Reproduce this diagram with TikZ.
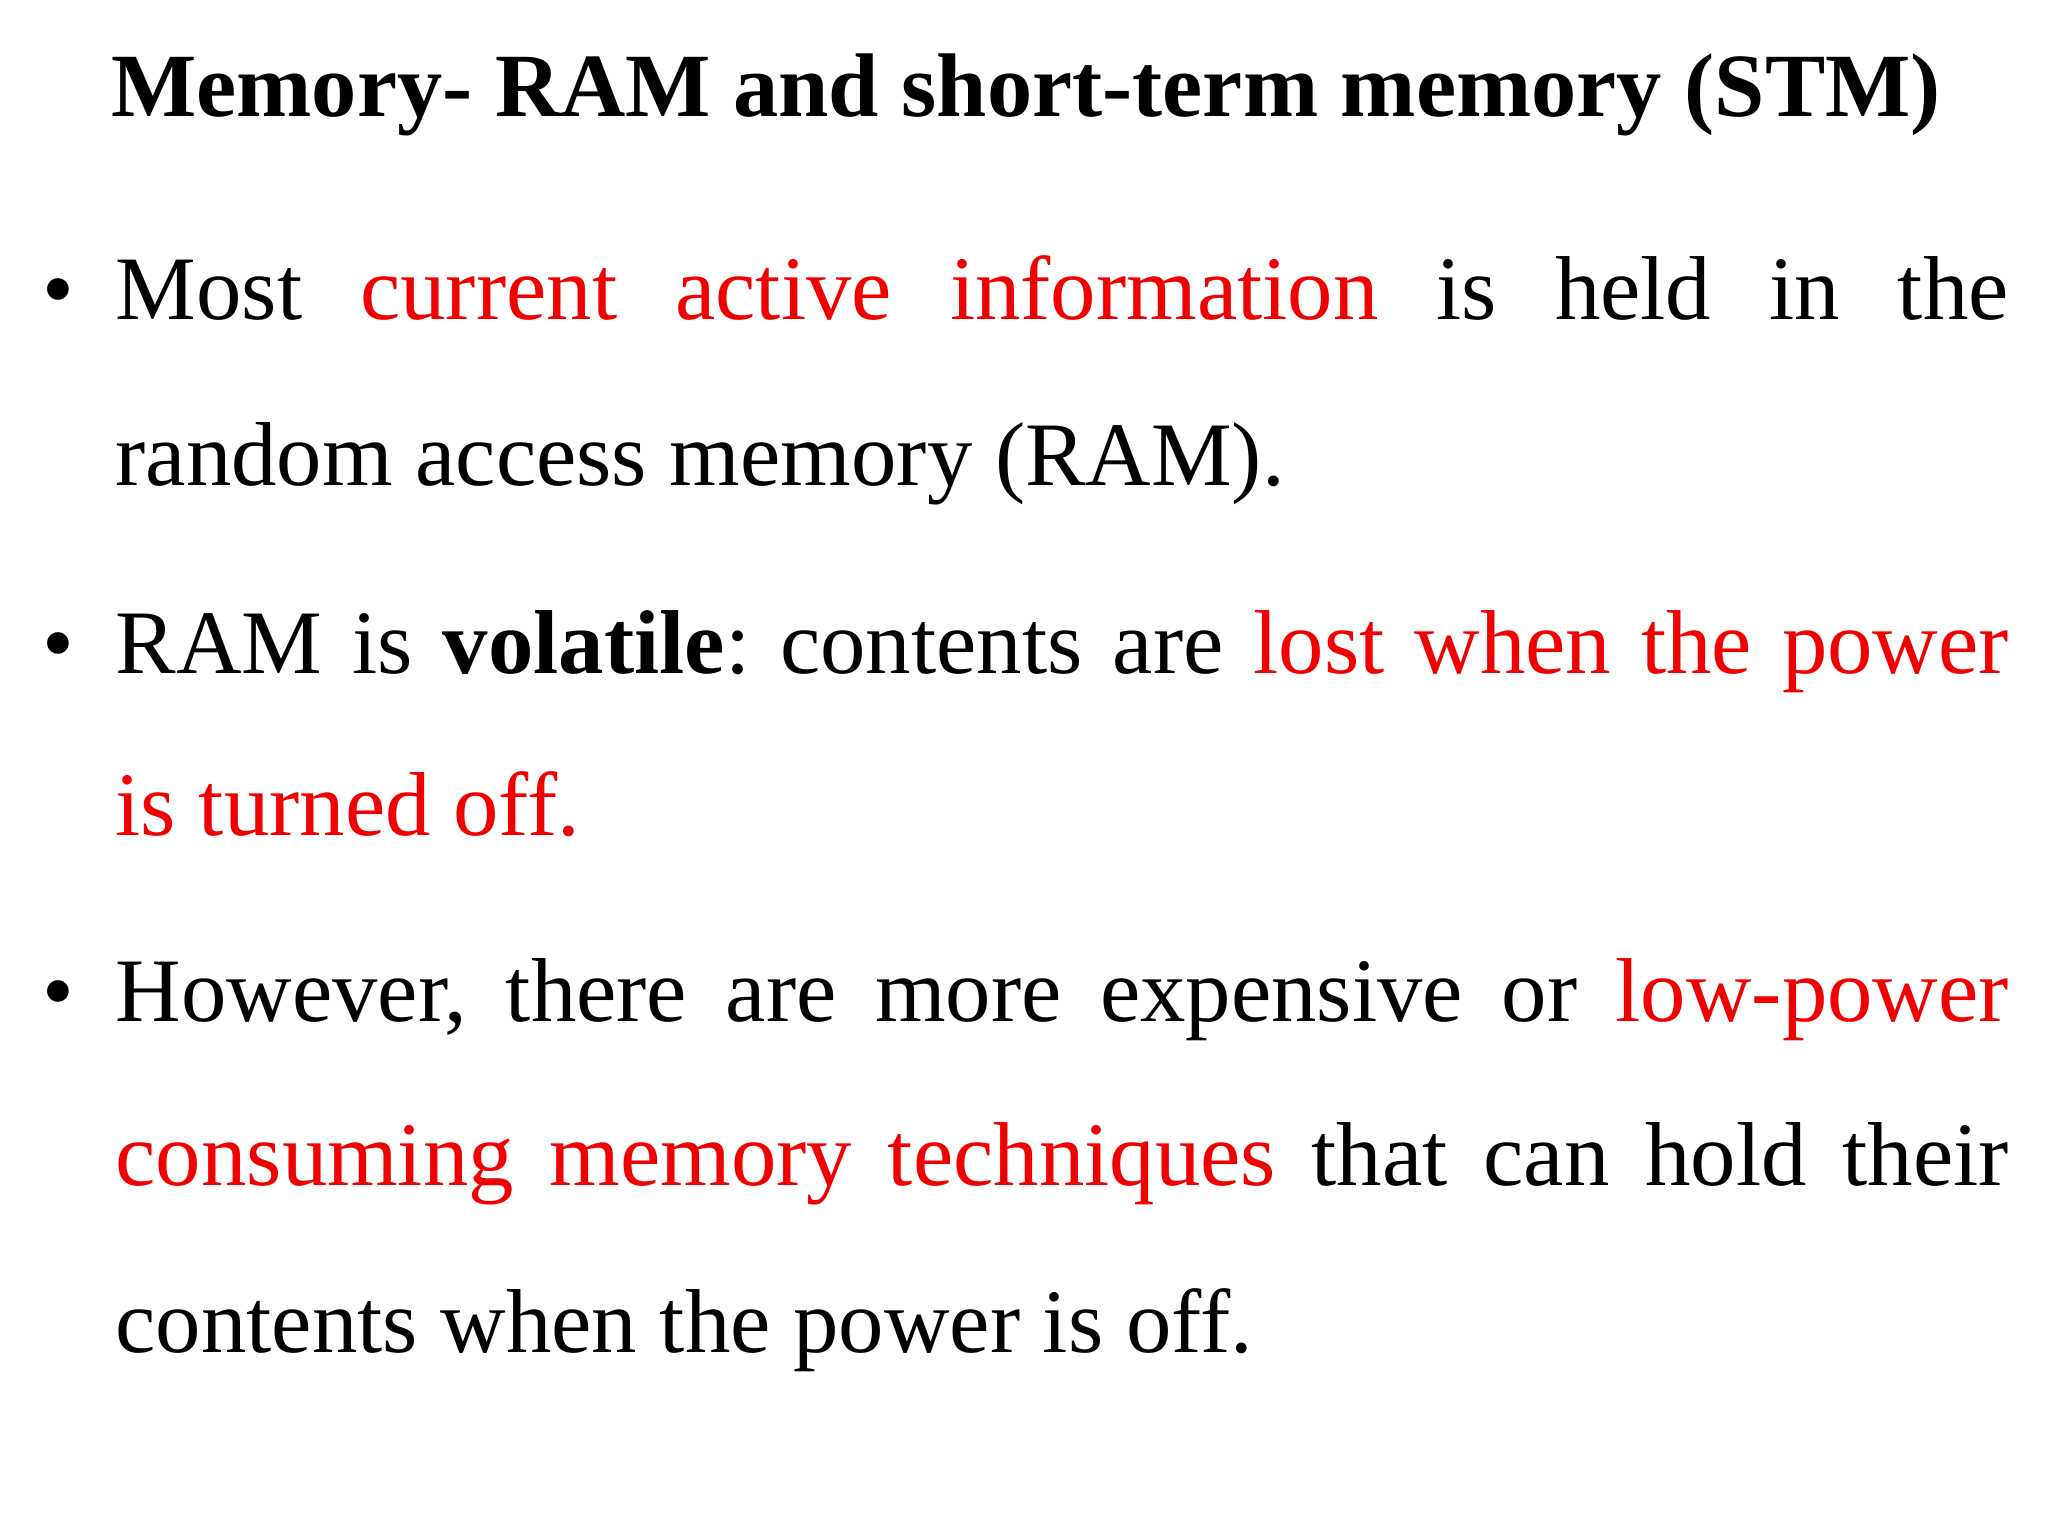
\documentclass[tikz,border=0pt]{standalone}
\usepackage{fontspec}
\setmainfont{Liberation Serif}
\definecolor{hl}{RGB}{240,0,0}
\frenchspacing
\begin{document}
\begin{tikzpicture}[x=0.01cm,y=-0.01cm,
  ln/.style={anchor=base west,inner sep=0pt,font=\fontsize{25.8pt}{30pt}\selectfont},
  bul/.style={anchor=base,inner sep=0pt,font=\fontsize{25.8pt}{30pt}\selectfont}]
\useasboundingbox (0,0) rectangle (2048,1536);
\fill[white] (0,0) rectangle (2048,1536);
\newcommand{\jl}[1]{\makebox[18.92cm][s]{#1}}
\node[anchor=base,inner sep=0pt,font=\fontsize{25.7pt}{30pt}\selectfont\bfseries] (title) at (1026,116) {Memory- RAM and short-term memory (STM)};
\node[bul] (b1) at (58,319) {•};
\node[ln] (l1) at (115,319) {\jl{Most \textcolor{hl}{current active information} is held in the}};
\node[ln] (l2) at (115,485) {random access memory (RAM).};
\node[bul] (b2) at (58,673) {•};
\node[ln] (l3) at (115,673) {\jl{RAM is \textbf{volatile}: contents are \textcolor{hl}{lost when the power}}};
\node[ln] (l4) at (115,835) {\textcolor{hl}{is turned off.}};
\node[bul] (b3) at (58,1021) {•};
\node[ln] (l5) at (115,1021) {\jl{However, there are more expensive or \textcolor{hl}{low-power}}};
\node[ln] (l6) at (115,1185) {\jl{\textcolor{hl}{consuming memory techniques} that can hold their}};
\node[ln] (l7) at (115,1352) {contents when the power is off.};
\end{tikzpicture}
\end{document}
